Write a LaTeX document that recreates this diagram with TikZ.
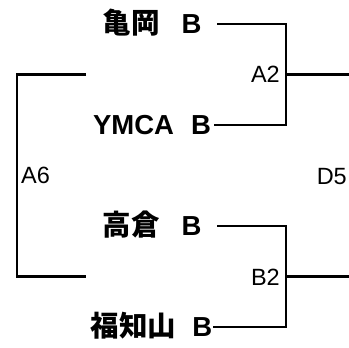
\documentclass[tikz,border=0pt]{standalone}
\usepackage{fontspec}
\setmainfont{Liberation Sans}
\newfontfamily\cjk{Noto Sans CJK JP}[Scale=1.036]
\tikzset{
	team/.style={font=\fontsize{27.5}{30}\selectfont\bfseries, inner sep=0pt, text height=19.7pt, text depth=0pt},
	seed/.style={font=\fontsize{23.5}{26}\selectfont, inner sep=0pt, text height=16.8pt, text depth=0pt},
	bracket/.style={line width=2.2pt},
}
\begin{document}
\begin{tikzpicture}[x=1pt,y=-1pt]
			\useasboundingbox (0,0) rectangle (349,348);
			% teams
			\node[team] (kameoka) at (152,24){{\cjk 亀岡}\hspace{22pt}B};
			\node[team] (ymca) at (152,125){YMCA\hspace{17pt}B};
			\node[team] (takakura) at (152,226){{\cjk 高倉}\hspace{22pt}B};
			\node[team] (fukuchiyama) at (151.5,327){{\cjk 福知山}\hspace{16pt}B};
			% first round
			\coordinate (a2j) at (286,74.5);
			\coordinate (a2o) at (349,74.5);
			\coordinate (b2j) at (286,276.5);
			\coordinate (b2o) at (349,276.5);
			\draw[bracket] ([xshift=15.5pt]kameoka.east) -| (a2j) |- ([xshift=3pt]ymca.east);
			\draw[bracket] ([xshift=15.5pt]takakura.east) -| (b2j) |- ([xshift=1pt]fukuchiyama.east);
			\draw[bracket] (a2j) to (a2o);
			\draw[bracket] (b2j) to (b2o);
			\node[seed,anchor=east] (a2) at (280,74){A2};
			\node[seed,anchor=east] (b2) at (280,277){B2};
			% second round
			\coordinate (a6t) at (86,74.5);
			\coordinate (a6b) at (86,276.5);
			\coordinate (a6l) at (17,175.5);
			\draw[bracket] (a6t) -| (a6l) |- (a6b);
			\node[seed,anchor=west] (a6) at (21,175.5){A6};
			\node[seed,anchor=east] (d5) at (347,176){D5};
\end{tikzpicture}
\end{document}
